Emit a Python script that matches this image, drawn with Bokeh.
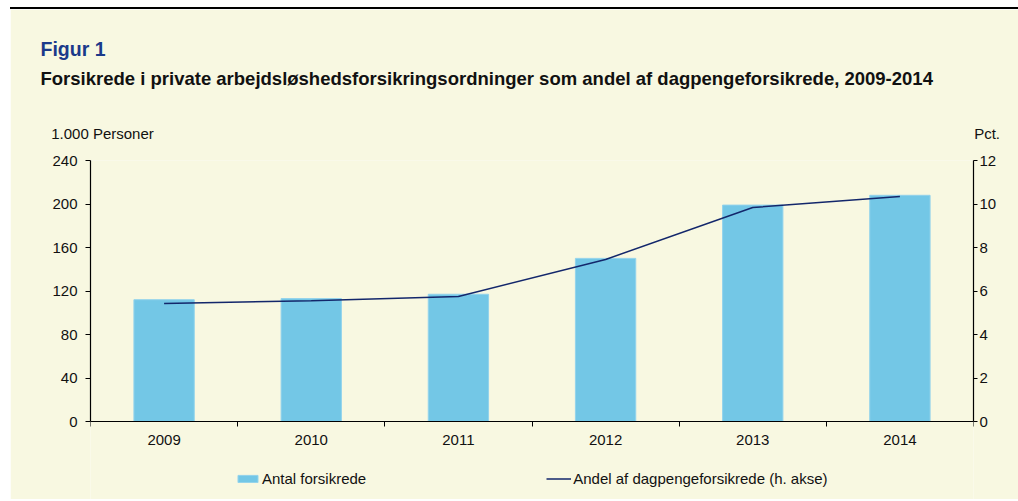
from bokeh.plotting import figure
from bokeh.models import (Range1d, LinearAxis, FixedTicker, Legend, LegendItem, Title,
                          ColumnDataSource)
from bokeh.embed import file_html
from bokeh.resources import INLINE

# ---- data ----
years = ["2009", "2010", "2011", "2012", "2013", "2014"]
antal = [112, 113, 117, 150, 199, 208]          # 1.000 personer (left axis)
andel = [5.43, 5.55, 5.75, 7.45, 9.84, 10.34]   # pct. (right axis)
left_ticks = [0, 40, 80, 120, 160, 200, 240]
right_ticks = [0, 2, 4, 6, 8, 10, 12]

title1 = "Figur 1"
title2 = "Forsikrede i private arbejdsløshedsforsikringsordninger som andel af dagpengeforsikrede, 2009-2014"
left_unit = "1.000 Personer"
right_unit = "Pct."
leg1 = "Antal forsikrede"
leg2 = "Andel af dagpengeforsikrede (h. akse)"

BG = "#F8F8E1"
BAR = "#73C7E6"
LINE = "#13276B"
FONT = "Liberation Sans"
NB = "\u00a0"

OX, OY = 10, 9            # canvas origin on the page
W, H = 1018 - OX, 501 - OY
FL, FR, FT, FB = 90, 973, 160, 421  # chart area edges in page px (y=0 at FB)
LMAX, RMAX = 240, 12
# the frame runs down to the page bottom so the legend can sit inside it
l_lo = -(501 - FB) * LMAX / (FB - FT)
r_lo = -(501 - FB) * RMAX / (FB - FT)

n = len(years)
xpos = [i + 0.5 for i in range(n)]
src = ColumnDataSource(dict(x=xpos, antal=antal, andel=andel))

p = figure(width=W, height=H, output_backend="svg", toolbar_location=None,
           x_range=Range1d(0, n), y_range=Range1d(l_lo, LMAX),
           min_border_left=FL - OX, min_border_right=1018 - FR,
           min_border_top=FT - OY, min_border_bottom=0,
           background_fill_color=BG, border_fill_color=BG,
           outline_line_color=None, x_axis_type=None, y_axis_type=None,
           styles={"margin-left": f"{OX}px", "margin-top": f"{OY - 2}px",
                   "border-top": "2px solid black"})
p.xgrid.visible = False
p.ygrid.visible = False
p.extra_y_ranges = {"pct": Range1d(r_lo, RMAX)}
p.extra_x_ranges = {"px": Range1d(FL, FR)}   # page-pixel scale for the unit labels

bars = p.vbar(x="x", top="antal", bottom=0, width=0.41, source=src, fill_color=BAR,
              line_color="#93D3EC", line_width=1)
ln = p.line(x="x", y="andel", source=src, y_range_name="pct",
            line_color=LINE, line_width=1.5)

def style(ax):
    ax.axis_line_color = "black"
    ax.axis_line_width = 1.2
    ax.major_tick_line_color = "black"
    ax.major_label_text_font = FONT
    ax.major_label_text_font_size = "15px"
    ax.major_label_text_color = "#111111"
    ax.minor_tick_line_color = None

xa = LinearAxis(ticker=FixedTicker(ticks=xpos, minor_ticks=list(range(n + 1))),
                major_label_overrides={x: y for x, y in zip(xpos, years)},
                fixed_location=0)
style(xa)
xa.major_tick_line_color = None
xa.minor_tick_line_color = "black"
xa.minor_tick_out = 5
xa.minor_tick_in = 0
xa.major_label_standoff = 7
p.add_layout(xa, "below")

ya = LinearAxis(ticker=FixedTicker(ticks=left_ticks), bounds=(0, LMAX))
style(ya)
ya.major_tick_out = 5
ya.major_tick_in = 0
ya.major_label_standoff = 8
p.add_layout(ya, "left")

yb = LinearAxis(y_range_name="pct", ticker=FixedTicker(ticks=right_ticks),
                bounds=(0, RMAX))
style(yb)
yb.major_tick_out = 4
yb.major_tick_in = 0
yb.major_label_standoff = 2
p.add_layout(yb, "right")

# series legend (inside the frame, under the x axis)
legend = Legend(items=[LegendItem(label=leg1, renderers=[bars]),
                       LegendItem(label=leg2, renderers=[ln])],
                orientation="horizontal", location=(235 - FL, 13),
                glyph_width=25, glyph_height=9, label_standoff=2, spacing=180,
                padding=0, margin=0, border_line_color=None,
                background_fill_alpha=0, label_text_font=FONT,
                label_text_font_size="15px", label_text_color="#111111",
                label_height=20)
p.add_layout(legend, "center")

# unit labels row above the frame: an unlined axis on a page-pixel scale
ua = LinearAxis(x_range_name="px", ticker=FixedTicker(ticks=[102, 972]),
                major_label_overrides={102: left_unit, 972: NB * 7 + right_unit},
                axis_label=NB, axis_label_standoff=2,
                axis_label_text_font_size="9px")
style(ua)
ua.axis_line_color = None
ua.major_tick_line_color = None
ua.major_tick_out = 0
ua.major_tick_in = 0
ua.major_label_standoff = 19
p.add_layout(ua, "above")

t2 = Title(text=title2, align="left", offset=40 - FL, standoff=33,
           vertical_align="middle", text_font=FONT, text_font_size="18.5px",
           text_font_style="bold", text_color="#111111")
t1 = Title(text=title1, align="left", offset=40 - FL, standoff=0,
           vertical_align="middle", text_font=FONT, text_font_size="19.5px",
           text_font_style="bold", text_color="#1B3A8A")
try:
    t1.standoff = -20
except Exception:
    t1.standoff = 0
p.add_layout(t2, "above")
p.add_layout(t1, "above")

open("out.html", "w").write(file_html(p, INLINE))
